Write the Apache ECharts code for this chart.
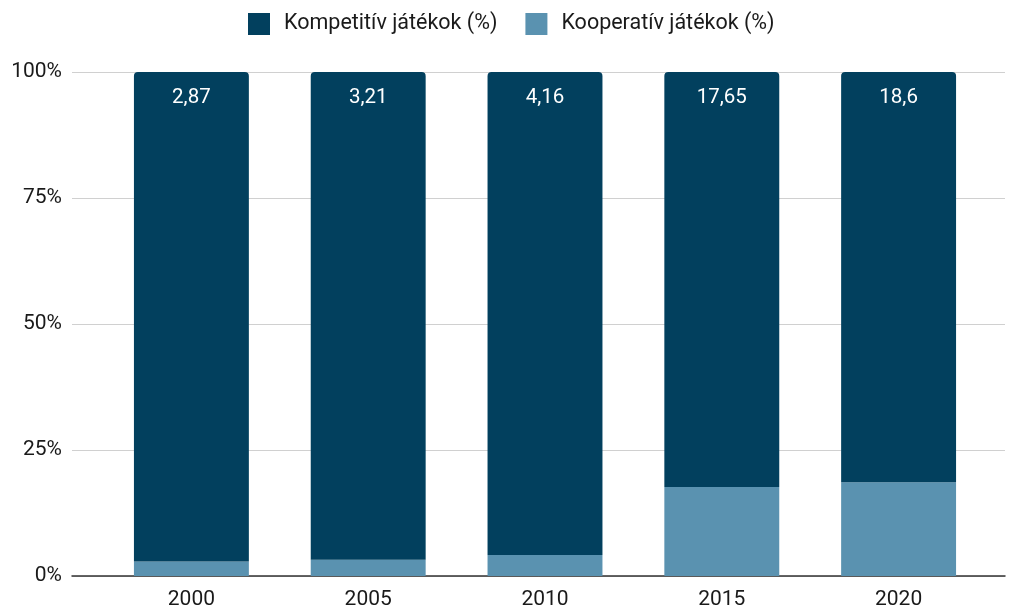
<!DOCTYPE html>
<html>
<head>
    <meta charset="UTF-8">
    <script type="text/javascript" src="https://cdn.jsdelivr.net/npm/echarts@6/dist/echarts.min.js"></script>
</head>
<body style="margin: 0;padding: 0;">
<div id="main" style="width: 1009px;height:610px;"></div>
<script>
    var years = ['2000', '2005', '2010', '2015', '2020']
    var kooperativ = [2.87, 3.21, 4.16, 17.65, 18.6]
    var kompetitiv = [97.13, 96.79, 95.84, 82.35, 81.4]
    var barLabels = ['2,87', '3,21', '4,16', '17,65', '18,6']
    var yTicks = [0, 25, 50, 75, 100]

    var chart = echarts.init(document.getElementById('main'));
    var font = 'Roboto, "Noto Sans", sans-serif'

    var option = {
        animation: false,
        legend: {
            top: 8,
            left: 243,
            itemWidth: 22,
            itemHeight: 22,
            itemGap: 28,
            icon: 'rect',
            textStyle: {fontSize: 21.5, color: '#1a1a1a', fontFamily: font, padding: [0, 0, 0, 9]},
            data: ['Kompetitív játékok (%)', 'Kooperatív játékok (%)']
        },
        grid: [
            // grid for gridlines (wider than the bars area)
            {left: 72, right: 4, top: 72, bottom: 34},
            // grid for the bars
            {left: 103, right: 22, top: 72, bottom: 34}
        ],
        xAxis: [
            {
                gridIndex: 0, type: 'category', data: years,
                axisLine: {show: true, lineStyle: {color: '#333', width: 1.5}},
                axisTick: {show: false}, axisLabel: {show: false}
            },
            {
                gridIndex: 1, type: 'category', data: years,
                axisLine: {show: false}, axisTick: {show: false},
                axisLabel: {fontSize: 21, color: '#1a1a1a', fontFamily: font, margin: 13}
            }
        ],
        yAxis: [
            {
                gridIndex: 0, type: 'value', min: 0, max: 100, interval: 25,
                axisLabel: {
                    fontSize: 21, color: '#1a1a1a', fontFamily: font, margin: 10,
                    formatter: function (v) { return yTicks.indexOf(v) >= 0 ? v + '%' : '' }
                },
                splitLine: {lineStyle: {color: '#d0d0d0', width: 1}},
                axisLine: {show: false}, axisTick: {show: false}
            },
            {
                gridIndex: 1, type: 'value', min: 0, max: 100, interval: 25,
                axisLabel: {show: false}, splitLine: {show: false},
                axisLine: {show: false}, axisTick: {show: false}
            }
        ],
        series: [
            {
                name: 'Kooperatív játékok (%)',
                type: 'bar', stack: 'total',
                xAxisIndex: 1, yAxisIndex: 1,
                barWidth: '65%',
                itemStyle: {color: '#5a92b0'},
                data: kooperativ
            },
            {
                name: 'Kompetitív játékok (%)',
                type: 'bar', stack: 'total',
                xAxisIndex: 1, yAxisIndex: 1,
                barWidth: '65%',
                itemStyle: {color: '#02405e', borderRadius: [4, 4, 0, 0]},
                label: {
                    show: true, position: 'insideTop', distance: 15,
                    color: '#fff', fontSize: 20.5, fontFamily: font,
                    formatter: function (p) { return barLabels[p.dataIndex] }
                },
                data: kompetitiv
            }
        ]
    };
    chart.setOption(option);
</script>
</body>
</html>
